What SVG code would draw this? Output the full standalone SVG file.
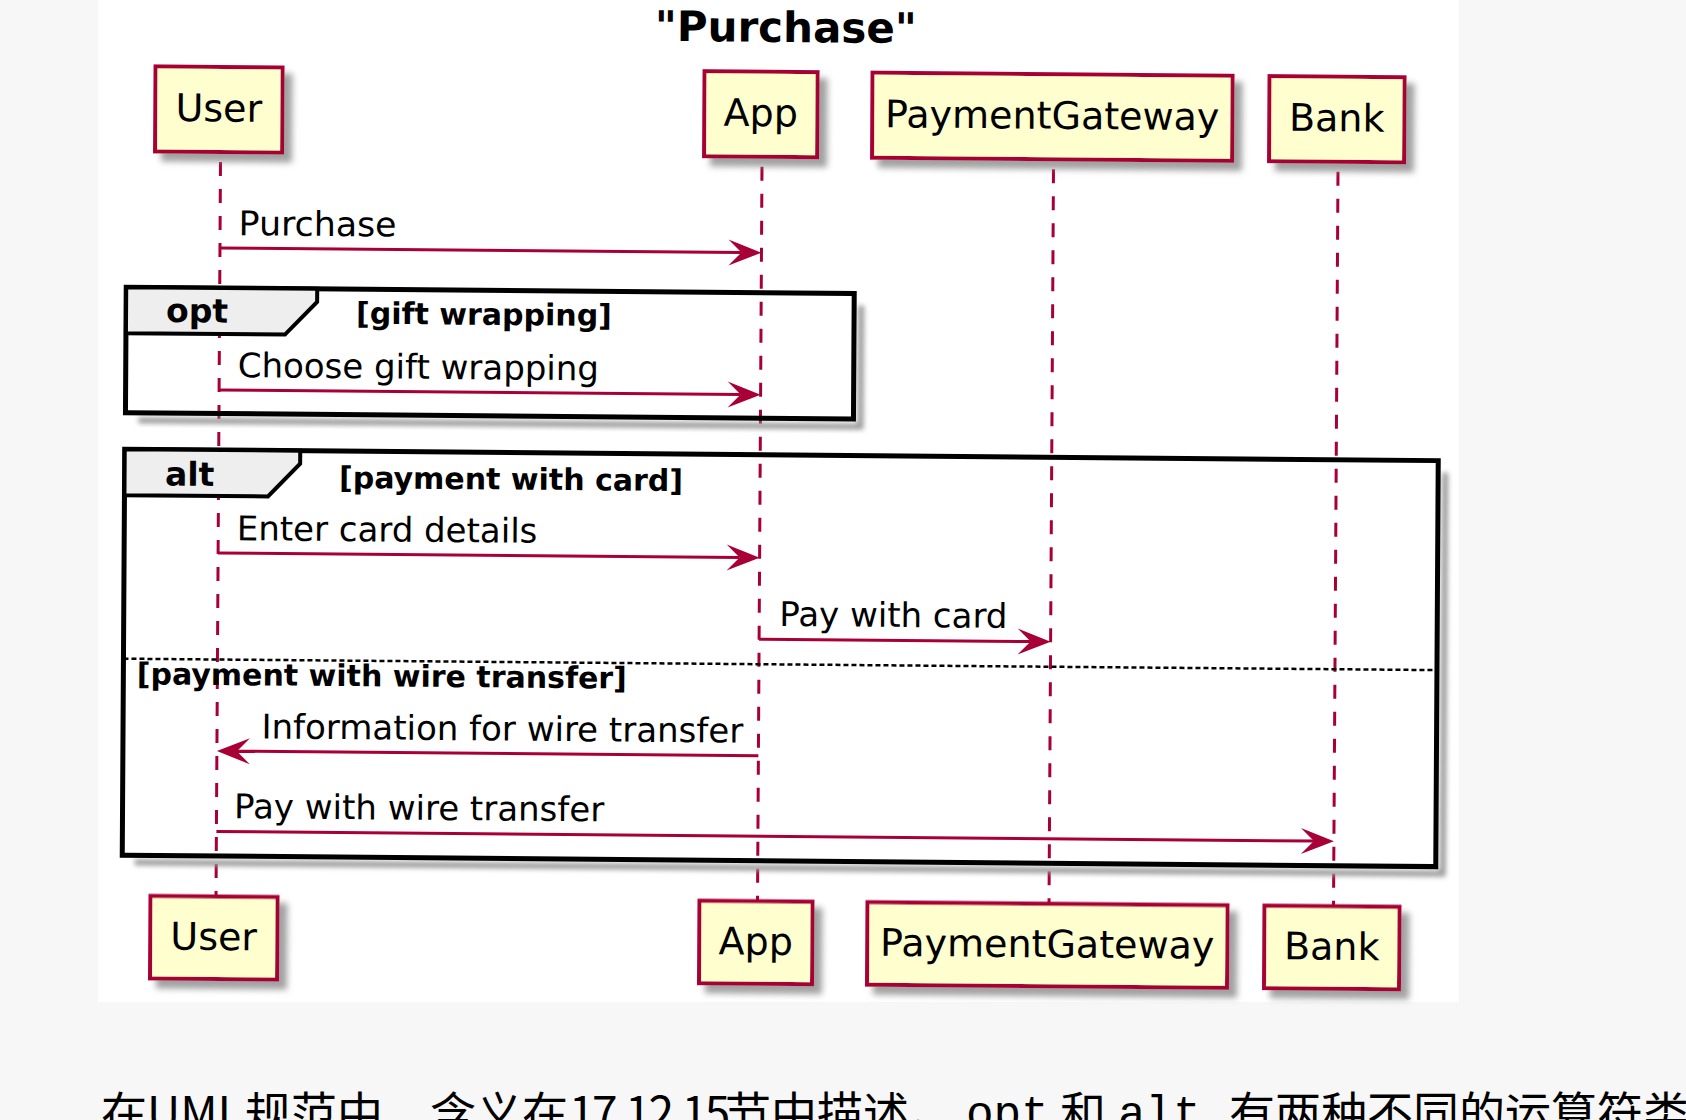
<svg xmlns="http://www.w3.org/2000/svg" width="1686" height="1120" viewBox="0 0 1686 1120">
<defs>
<style>
.bg{fill:#f7f7f7}
.panel{fill:#ffffff}
.box{fill:#FEFECE;stroke:#A80036;stroke-width:4}
.pname{font-family:'DejaVu Sans',sans-serif;font-size:38px;fill:#000;text-anchor:middle}
.life{stroke:#A80036;stroke-width:3;stroke-dasharray:14 13;fill:none}
.frame{fill:none;stroke:#000;stroke-width:5}
.tab{fill:#EEEEEE;stroke:#000;stroke-width:4;stroke-linejoin:miter}
.fshadow{fill:none;stroke:#9a9a9a;stroke-width:6}
.sep{stroke:#000;stroke-width:2.5;stroke-dasharray:5 3}
.bold{font-family:'DejaVu Sans',sans-serif;font-weight:bold;font-size:30px;fill:#000}
.op{font-family:'DejaVu Sans',sans-serif;font-weight:bold;font-size:33px;fill:#000}
.msg{stroke:#A80036;stroke-width:3;fill:none;marker-end:url(#ah)}
.mlabel{font-family:'DejaVu Sans',sans-serif;font-size:34px;fill:#000}
.title{font-family:'DejaVu Sans',sans-serif;font-weight:bold;font-size:42px;text-anchor:middle;fill:#000}
.cn{font-family:'Noto Sans CJK SC',sans-serif;font-size:46px;fill:#000}
.mono{font-family:'Liberation Mono',monospace;font-size:46px}
.num{letter-spacing:-2.5px}
</style>
<filter id="sh" x="-20%" y="-20%" width="150%" height="160%">
<feGaussianBlur in="SourceAlpha" stdDeviation="3"/>
<feOffset dx="8" dy="8" result="b"/>
<feFlood flood-color="#8a8a8a" flood-opacity="0.8"/>
<feComposite in2="b" operator="in"/>
<feMerge><feMergeNode/><feMergeNode in="SourceGraphic"/></feMerge>
</filter>
<filter id="blur" x="-5%" y="-5%" width="110%" height="110%"><feGaussianBlur stdDeviation="2.5"/></filter>
<marker id="ah" markerUnits="userSpaceOnUse" viewBox="-14 -14 36 28" markerWidth="36" markerHeight="28" refX="0" refY="0" orient="auto">
<path d="M20,0 L-13,-13 L0,0 L-13,13 Z" fill="#A80036"/>
</marker>
</defs>
<rect class="bg" x="0" y="0" width="1686" height="1120"/>
<rect class="panel" x="98" y="0" width="1361" height="1002"/>
<g id="diagram" transform="matrix(1 0.0087 -0.0061 1 0.98 -1.92)">
<text class="title" x="785" y="37">"Purchase"</text>
<g id="lifelines">
<line class="life" x1="220.5" y1="152" x2="220.5" y2="896" stroke-dashoffset="17"/>
<line class="life" x1="762" y1="152" x2="762" y2="896" stroke-dashoffset="17"/>
<line class="life" x1="1053.5" y1="152" x2="1053.5" y2="896" stroke-dashoffset="17"/>
<line class="life" x1="1338" y1="152" x2="1338" y2="896" stroke-dashoffset="17"/>
</g>
<g id="frame-opt">
<path class="fshadow" filter="url(#blur)" d="M862,300 V421 H140"/>
<rect class="frame" x="127" y="288" width="728" height="125.5"/>
<path class="tab" d="M127,288 H318 V301 L286,334 H127 Z"/>
<text class="op" x="167" y="322.5">opt</text>
<text class="bold" x="357" y="322.5">[gift wrapping]</text>
</g>
<g id="frame-alt">
<path class="fshadow" filter="url(#blur)" d="M1447,462 V863 H139"/>
<rect class="frame" x="126.5" y="450" width="1313.5" height="406"/>
<path class="tab" d="M126.5,450 H302 V463 L270,496 H126.5 Z"/>
<text class="op" x="167" y="486">alt</text>
<text class="bold" x="341" y="487">[payment with card]</text>
<line class="sep" x1="126.5" y1="659.5" x2="1440" y2="659.5"/>
<text class="bold" x="140" y="685">[payment with wire transfer]</text>
</g>
<g id="connectors">
<line class="msg" x1="220.5" y1="248" x2="742" y2="248"/>
<text class="mlabel" x="239" y="235" textLength="158" lengthAdjust="spacingAndGlyphs">Purchase</text>
<line class="msg" x1="220.5" y1="390" x2="742" y2="390"/>
<text class="mlabel" x="239" y="377">Choose gift wrapping</text>
<line class="msg" x1="220.5" y1="553" x2="742" y2="553"/>
<text class="mlabel" x="239" y="540">Enter card details</text>
<line class="msg" x1="762" y1="634.5" x2="1033.5" y2="634.5"/>
<text class="mlabel" x="782" y="621">Pay with card</text>
<line class="msg" x1="762" y1="751" x2="240.5" y2="751"/>
<text class="mlabel" x="265" y="738">Information for wire transfer</text>
<line class="msg" x1="220.5" y1="831.5" x2="1318" y2="831.5"/>
<text class="mlabel" x="238" y="818">Pay with wire transfer</text>
</g>
<g id="user">
<rect class="box" filter="url(#sh)" x="155" y="67" width="127" height="85"/>
<text class="pname" x="218.5" y="121.5">User</text>
<rect class="box" filter="url(#sh)" x="155" y="896.5" width="127" height="82.5"/>
<text class="pname" x="218.5" y="950">User</text>
</g>
<g id="app">
<rect class="box" filter="url(#sh)" x="704" y="67" width="113" height="85"/>
<text class="pname" x="760.5" y="121.5">App</text>
<rect class="box" filter="url(#sh)" x="704" y="896.5" width="113" height="82.5"/>
<text class="pname" x="760.5" y="950">App</text>
</g>
<g id="paymentgateway">
<rect class="box" filter="url(#sh)" x="872" y="67" width="360" height="85"/>
<text class="pname" x="1052" y="121.5">PaymentGateway</text>
<rect class="box" filter="url(#sh)" x="872" y="896.5" width="360" height="82.5"/>
<text class="pname" x="1052" y="950">PaymentGateway</text>
</g>
<g id="bank">
<rect class="box" filter="url(#sh)" x="1269" y="67" width="135" height="85"/>
<text class="pname" x="1336.5" y="121.5">Bank</text>
<rect class="box" filter="url(#sh)" x="1269" y="896.5" width="135" height="82.5"/>
<text class="pname" x="1336.5" y="950">Bank</text>
</g>
</g>
<g id="caption">
<text class="cn" y="1130"><tspan x="101">在UML</tspan><tspan x="245">规范中，</tspan><tspan x="430">含义在</tspan><tspan class="num" x="569">17.12.15</tspan><tspan x="725">节中描述。</tspan><tspan class="mono" x="966" y="1128">opt</tspan><tspan x="1060" y="1130">和</tspan><tspan class="mono" x="1118" y="1128">alt</tspan><tspan x="1229" y="1130">有两种不同的运算符类</tspan></text>
</g>
</svg>
